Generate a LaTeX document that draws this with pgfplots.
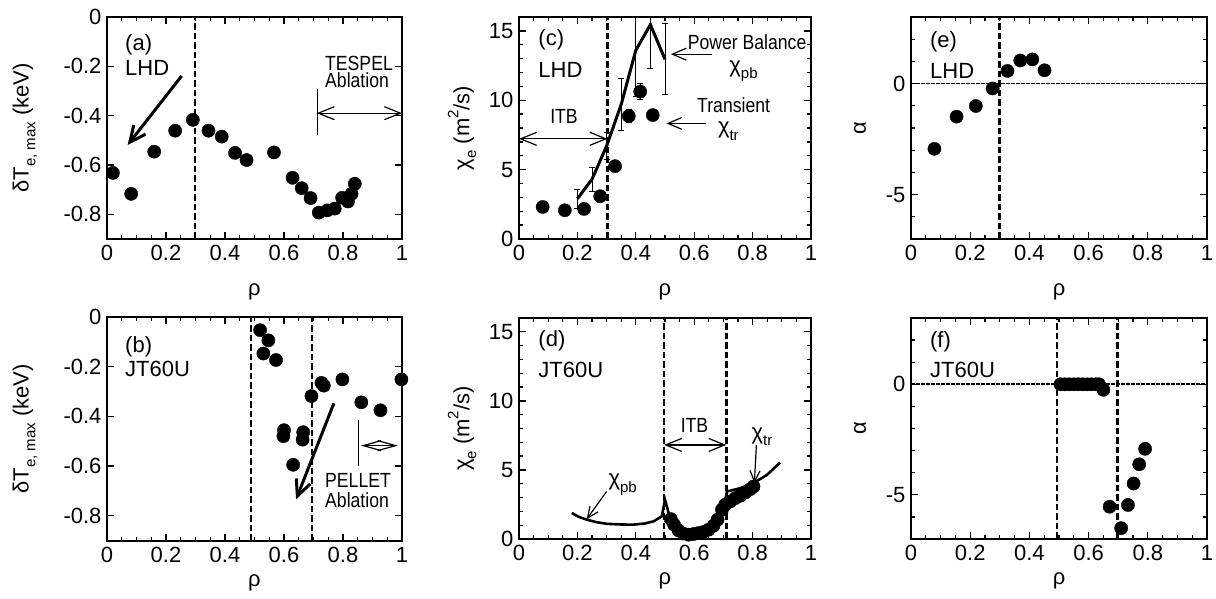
\documentclass[border=0pt]{standalone}
\usepackage{fontspec}
\setmainfont{Liberation Sans}
\usepackage{graphicx}
\usepackage{pgfplots}
\pgfplotsset{compat=1.18}
\usetikzlibrary{arrows.meta}
\newcommand{\fL}{\fontsize{22}{26}\selectfont}
\newcommand{\nS}[1]{\scalebox{0.86}[1]{\fontsize{20.5}{24}\selectfont #1}}
\newcommand{\lo}[1]{\raisebox{-0.3em}{\fontsize{15}{15}\selectfont #1}}
\newcommand{\hi}[1]{\raisebox{0.5em}{\fontsize{15}{15}\selectfont #1}}
\pgfplotsset{
  panel/.style={
    scale only axis, width=295pt, height=222pt, anchor=north west,
    clip mode=individual,
    xmin=0, xmax=1,
    xtick={0,0.2,0.4,0.6,0.8,1}, xticklabels={0,0.2,0.4,0.6,0.8,1},
    minor xtick={0.05,0.1,0.15,0.25,0.3,0.35,0.45,0.5,0.55,0.65,0.7,0.75,0.85,0.9,0.95},
    tick align=inside, major tick length=7pt, minor tick length=4pt,
    every tick/.style={black, line width=1.3pt},
    axis line style={line width=2pt},
    tick label style={font=\fL},
    xticklabel style={yshift=-3pt},
    yticklabel style={xshift=-2pt},
    label style={font=\fL},
    xlabel={ρ},
  },
  toprow/.style={xlabel style={at={(axis description cs:0.5,-0.24)}, anchor=center}},
  botrow/.style={xlabel style={at={(axis description cs:0.5,-0.19)}, anchor=center}},
  pts/.style={only marks, mark=*, mark size=6.6pt, black},
}
\tikzset{
  vline/.style={black, line width=2.6pt, dash pattern=on 6.5pt off 3pt},
  hline/.style={black, line width=1.8pt, dash pattern=on 3.5pt off 1.5pt},
  tarrow/.style={black, line width=1.2pt, -{Straight Barb[length=14pt,width=12pt]}},
  darrow/.style={black, line width=1.2pt, {Straight Barb[length=16pt,width=13pt]}-{Straight Barb[length=16pt,width=13pt]}},
  bigarrow/.style={black, line width=3pt, -{Straight Barb[length=16pt,width=15pt]}},
}
\begin{document}
\begin{tikzpicture}
\useasboundingbox (0,0) rectangle (1216pt,599pt);

% (a)
\begin{axis}[panel, toprow, at={(107pt,582pt)},
  ymin=-0.9, ymax=0, ytick={-0.8,-0.6,-0.4,-0.2,0}, yticklabels={-0.8,-0.6,-0.4,-0.2,0},
  ylabel={δT\lo{e, max} (keV)}, ylabel style={at={(axis description cs:-0.278,0.5)}, anchor=center}]
\addplot[pts] coordinates {
(0.02,-0.632) (0.082,-0.717) (0.16,-0.546) (0.231,-0.461) (0.291,-0.417)
(0.344,-0.461) (0.389,-0.485) (0.434,-0.551) (0.473,-0.58) (0.566,-0.549)
(0.629,-0.652) (0.66,-0.694) (0.69,-0.734) (0.718,-0.793) (0.747,-0.784)
(0.772,-0.777) (0.797,-0.733) (0.817,-0.748) (0.829,-0.717) (0.84,-0.676)};
\draw[vline] (axis cs:0.298,-0.9) -- (axis cs:0.298,0);
\draw[bigarrow] (axis cs:0.253,-0.239) -- (axis cs:0.070,-0.519);
\node[font=\fL, anchor=west, inner sep=0pt] at (axis cs:0.061,-0.1135) {(a)};
\node[font=\fL, anchor=west, inner sep=0pt] at (axis cs:0.061,-0.208) {LHD};
\node[anchor=west, inner sep=0pt, align=left, font=\fontsize{20.5}{17.3}\selectfont] at (axis cs:0.739,-0.223) {\nS{TESPEL}\\\nS{Ablation}};
\draw[darrow] (axis cs:0.711,-0.39) -- (axis cs:1.0,-0.39);
\draw[black, line width=1pt] (axis cs:0.713,-0.293) -- (axis cs:0.713,-0.478);
\end{axis}

% (b)
\begin{axis}[panel, botrow, at={(107pt,282.3pt)}, height=224pt,
  ymin=-0.9, ymax=0, ytick={-0.8,-0.6,-0.4,-0.2,0}, yticklabels={-0.8,-0.6,-0.4,-0.2,0},
  ylabel={δT\lo{e, max} (keV)}, ylabel style={at={(axis description cs:-0.278,0.5)}, anchor=center}]
\addplot[pts] coordinates {
(0.519,-0.054) (0.547,-0.095) (0.53,-0.148) (0.573,-0.174) (0.6,-0.456)
(0.598,-0.48) (0.631,-0.595) (0.665,-0.464) (0.663,-0.494) (0.693,-0.319)
(0.727,-0.266) (0.735,-0.277) (0.798,-0.252) (0.862,-0.344) (0.927,-0.376)
(0.998,-0.252)};
\draw[vline] (axis cs:0.488,-0.9) -- (axis cs:0.488,0);
\draw[vline] (axis cs:0.695,-0.9) -- (axis cs:0.695,0);
\draw[bigarrow] (axis cs:0.769,-0.348) -- (axis cs:0.641,-0.734);
\node[font=\fL, anchor=west, inner sep=0pt] at (axis cs:0.061,-0.12) {(b)};
\node[font=\fL, anchor=west, inner sep=0pt] at (axis cs:0.061,-0.211) {JT60U};
\draw[black, line width=1pt] (axis cs:0.852,-0.415) -- (axis cs:0.852,-0.6);
\draw[black, line width=1.2pt, {Straight Barb[length=18pt,width=10pt]}-{Straight Barb[length=18pt,width=10pt]}] (axis cs:0.861,-0.518) -- (axis cs:0.986,-0.518);
\node[anchor=west, inner sep=0pt, align=left, font=\fontsize{20.5}{19.9}\selectfont] at (axis cs:0.739,-0.699) {\nS{PELLET}\\\nS{Ablation}};
\end{axis}

% (c)
\begin{axis}[panel, toprow, at={(519pt,582pt)}, width=292pt,
  ymin=0, ymax=16, ytick={0,5,10,15}, yticklabels={0,5,10,15},
  minor ytick={1,2,3,4,6,7,8,9,11,12,13,14},
  ylabel={χ\lo{e} (m\hi{2}/s)}, ylabel style={at={(axis description cs:-0.195,0.5)}, anchor=center}]
\addplot[black, line width=3pt, mark=none,
  error bars/.cd, y dir=both, y explicit,
  error bar style={line width=1pt},
  error mark options={rotate=90, line width=1pt, mark size=3pt}]
 coordinates {
 (0.2,2.9) +- (0,0.67)
 (0.25,4.3) +- (0,0.85)
 (0.3,6.7) +- (0,0.97)
 (0.35,9.7) +- (0,1.9)
 (0.4,13.6) +- (0,3.3)
 (0.45,15.45) +- (0,3.15)
 (0.5,12.95) +- (0,2.57)};
\draw[vline] (axis cs:0.303,0) -- (axis cs:0.303,16);
\addplot[pts, error bars/.cd, y dir=both, y explicit,
  error bar style={line width=1pt},
  error mark options={rotate=90, line width=1pt, mark size=3pt}]
 coordinates {
 (0.081,2.31) +- (0,0) (0.157,2.07) +- (0,0) (0.223,2.17) +- (0,0)
 (0.278,3.08) +- (0,0) (0.329,5.25) +- (0,0) (0.376,8.86) +- (0,0.48)
 (0.415,10.62) +- (0,0.6) (0.458,8.93) +- (0,0)};
\node[font=\fL, anchor=west, inner sep=0pt] at (axis cs:0.066,14.34) {(c)};
\node[font=\fL, anchor=west, inner sep=0pt] at (axis cs:0.066,12.17) {LHD};
\draw[darrow] (axis cs:0,7.22) -- (axis cs:0.303,7.22);
\node at (axis cs:0.154,8.81) {\nS{ITB}};
\node[inner sep=0pt] at (axis cs:0.781,14.2) {\nS{Power Balance}};
\draw[tarrow] (axis cs:0.661,13.32) -- (axis cs:0.52,13.32);
\node[font=\fL, inner sep=0pt] at (axis cs:0.769,12.11) {χ\lo{pb}};
\node[inner sep=0pt] at (axis cs:0.735,9.63) {\nS{Transient}};
\draw[tarrow] (axis cs:0.642,8.33) -- (axis cs:0.505,8.33);
\node[font=\fL, inner sep=0pt] at (axis cs:0.717,7.78) {χ\lo{tr}};
\end{axis}

% (d)
\begin{axis}[panel, botrow, at={(519pt,281pt)}, width=292pt, height=221pt,
  ymin=0, ymax=16, ytick={0,5,10,15}, yticklabels={0,5,10,15},
  minor ytick={1,2,3,4,6,7,8,9,11,12,13,14},
  ylabel={χ\lo{e} (m\hi{2}/s)}, ylabel style={at={(axis description cs:-0.195,0.5)}, anchor=center}]
\addplot[black, line width=2.6pt, mark=none] coordinates {
(0.181,1.88) (0.205,1.6) (0.232,1.40) (0.265,1.22) (0.301,1.10) (0.35,1.05)
(0.392,1.04) (0.43,1.12) (0.461,1.28) (0.489,1.64) (0.5,2.84) (0.515,1.7)
(0.54,1.0) (0.57,0.6) (0.6,0.55) (0.63,0.7) (0.66,1.0) (0.69,1.9) (0.705,2.6)
(0.712,3.44) (0.758,3.68) (0.803,4.05) (0.849,4.64) (0.894,5.53)};
\draw[vline] (axis cs:0.497,0) -- (axis cs:0.497,16);
\draw[vline] (axis cs:0.71,0) -- (axis cs:0.71,16);
\addplot[pts] coordinates {
(0.52,1.44) (0.531,1.04) (0.546,0.63) (0.563,0.39) (0.581,0.31) (0.598,0.36)
(0.615,0.43) (0.632,0.51) (0.649,0.67) (0.666,0.96) (0.68,1.40) (0.695,2.12)
(0.706,2.48) (0.723,2.72) (0.741,2.96) (0.758,3.13) (0.775,3.37) (0.792,3.61)
(0.803,3.80)};
\node[font=\fL, anchor=west, inner sep=0pt] at (axis cs:0.066,14.34) {(d)};
\node[font=\fL, anchor=west, inner sep=0pt] at (axis cs:0.066,12.23) {JT60U};
\draw[darrow] (axis cs:0.497,6.81) -- (axis cs:0.71,6.81);
\node at (axis cs:0.601,8.19) {\nS{ITB}};
\node[font=\fL] at (axis cs:0.355,3.92) {χ\lo{pb}};
\draw[black, line width=1.2pt, -{Straight Barb[length=11pt,width=10pt]}] (axis cs:0.3,3.44) -- (axis cs:0.232,1.44);
\node[font=\fL] at (axis cs:0.832,7.41) {χ\lo{tr}};
\draw[black, line width=1.2pt, -{Straight Barb[length=11pt,width=10pt]}] (axis cs:0.813,6.81) -- (axis cs:0.806,4.05);
\end{axis}

% (e)
\begin{axis}[panel, toprow, at={(911pt,582pt)}, width=296pt,
  ymin=-7, ymax=3, ytick={-5,0}, yticklabels={-5,0},
  minor ytick={-6,-4,-3,-2,-1,1,2},
  ylabel={α}, ylabel style={at={(axis description cs:-0.172,0.5)}, anchor=center}]
\draw[hline] (axis cs:0,0) -- (axis cs:1,0);
\draw[vline] (axis cs:0.298,-7) -- (axis cs:0.298,3);
\addplot[pts] coordinates {
(0.079,-2.94) (0.154,-1.49) (0.219,-1.01) (0.276,-0.22) (0.326,0.57)
(0.369,1.04) (0.41,1.09) (0.451,0.6)};
\node[font=\fL, anchor=west, inner sep=0pt] at (axis cs:0.064,1.9) {(e)};
\node[font=\fL, anchor=west, inner sep=0pt] at (axis cs:0.064,0.56) {LHD};
\end{axis}

% (f)
\begin{axis}[panel, botrow, at={(911pt,281pt)}, width=296pt, height=221pt,
  ymin=-7, ymax=3, ytick={-5,0}, yticklabels={-5,0},
  minor ytick={-6,-4,-3,-2,-1,1,2},
  ylabel={α}, ylabel style={at={(axis description cs:-0.172,0.5)}, anchor=center}]
\draw[hline] (axis cs:0,0) -- (axis cs:1,0);
\draw[vline] (axis cs:0.493,-7) -- (axis cs:0.493,3);
\draw[vline] (axis cs:0.698,-7) -- (axis cs:0.698,3);
\addplot[pts] coordinates {
(0.505,0) (0.52,0) (0.535,0) (0.55,0) (0.565,0) (0.58,0) (0.595,0) (0.61,0)
(0.625,0) (0.635,0) (0.65,-0.25)
(0.671,-5.54) (0.71,-6.51) (0.733,-5.46) (0.752,-4.49) (0.771,-3.62) (0.791,-2.92)};
\node[font=\fL, anchor=west, inner sep=0pt] at (axis cs:0.064,1.91) {(f)};
\node[font=\fL, anchor=west, inner sep=0pt] at (axis cs:0.064,0.64) {JT60U};
\end{axis}
\end{tikzpicture}
\end{document}
